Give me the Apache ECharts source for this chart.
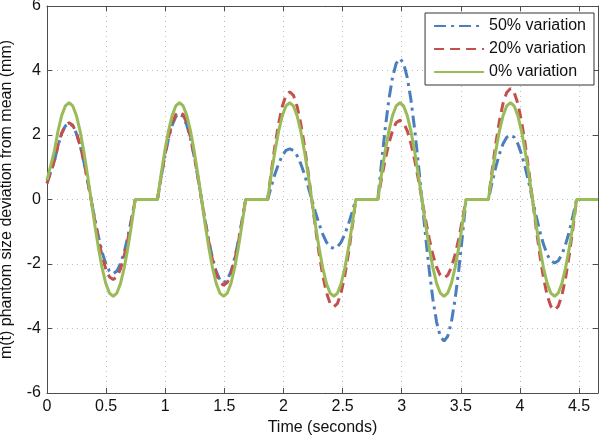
<!DOCTYPE html>
<html>
<head>
<meta charset="utf-8">
<script src="https://cdn.jsdelivr.net/npm/echarts@6/dist/echarts.min.js"></script>
<style>html,body{margin:0;padding:0;background:#fff}#c{width:600px;height:437px}</style>
</head>
<body>
<div id="c"></div>
<script>
// Time samples (seconds)
const time = [
  0, 0.031, 0.062, 0.093, 0.124, 0.155, 0.187, 0.218, 0.249, 0.280, 0.311, 0.342, 0.373, 0.404, 0.435, 0.466, 0.497, 0.528, 0.560, 0.591, 0.622, 0.653, 0.684, 0.715, 0.746,
  0.934, 0.965, 0.996, 1.027, 1.058, 1.089, 1.121, 1.152, 1.183, 1.214, 1.245, 1.276, 1.307, 1.338, 1.369, 1.400, 1.431, 1.462, 1.494, 1.525, 1.556, 1.587, 1.618, 1.649, 1.680,
  1.866, 1.897, 1.928, 1.959, 1.990, 2.021, 2.053, 2.084, 2.115, 2.146, 2.177, 2.208, 2.239, 2.270, 2.301, 2.332, 2.363, 2.394, 2.426, 2.457, 2.488, 2.519, 2.550, 2.581, 2.612,
  2.798, 2.829, 2.860, 2.891, 2.922, 2.953, 2.985, 3.016, 3.047, 3.078, 3.109, 3.140, 3.171, 3.202, 3.233, 3.264, 3.295, 3.326, 3.358, 3.389, 3.420, 3.451, 3.482, 3.513, 3.544,
  3.733, 3.764, 3.795, 3.826, 3.857, 3.888, 3.920, 3.951, 3.982, 4.013, 4.044, 4.075, 4.106, 4.137, 4.168, 4.199, 4.230, 4.261, 4.293, 4.324, 4.355, 4.386, 4.417, 4.448, 4.479,
  4.66
];
// 50% variation (mm)
const var50 = [
  0.5, 0.85, 1.18, 1.67, 2.04, 2.28, 2.36, 2.28, 2.04, 1.67, 1.18, 0.61, 0, -0.60, -1.15, -1.63, -1.99, -2.22, -2.30, -2.22, -1.99, -1.63, -1.15, -0.60, 0,
  0, 0.69, 1.33, 1.88, 2.30, 2.57, 2.66, 2.57, 2.30, 1.88, 1.33, 0.69, 0, -0.67, -1.29, -1.82, -2.23, -2.49, -2.58, -2.49, -2.23, -1.82, -1.29, -0.67, 0,
  0, 0.41, 0.79, 1.11, 1.36, 1.52, 1.57, 1.52, 1.36, 1.11, 0.79, 0.41, 0, -0.39, -0.76, -1.07, -1.32, -1.47, -1.52, -1.47, -1.32, -1.07, -0.76, -0.39, 0,
  0, 1.13, 2.19, 3.09, 3.78, 4.22, 4.37, 4.22, 3.78, 3.09, 2.19, 1.13, 0, -1.14, -2.20, -3.10, -3.80, -4.24, -4.39, -4.24, -3.80, -3.10, -2.20, -1.14, 0,
  0, 0.52, 1.00, 1.41, 1.73, 1.93, 2.00, 1.93, 1.73, 1.41, 1.00, 0.52, 0, -0.51, -0.99, -1.39, -1.71, -1.90, -1.97, -1.90, -1.71, -1.39, -0.99, -0.51, 0,
  0
];
// 20% variation (mm)
const var20 = [
  0.5, 0.85, 1.19, 1.68, 2.06, 2.30, 2.38, 2.30, 2.06, 1.68, 1.19, 0.62, 0, -0.64, -1.24, -1.75, -2.15, -2.40, -2.48, -2.40, -2.15, -1.75, -1.24, -0.64, 0,
  0, 0.70, 1.36, 1.92, 2.36, 2.63, 2.72, 2.63, 2.36, 1.92, 1.36, 0.70, 0, -0.69, -1.33, -1.88, -2.30, -2.57, -2.66, -2.57, -2.30, -1.88, -1.33, -0.69, 0,
  0, 0.86, 1.67, 2.36, 2.89, 3.23, 3.34, 3.23, 2.89, 2.36, 1.67, 0.86, 0, -0.86, -1.67, -2.35, -2.88, -3.22, -3.33, -3.22, -2.88, -2.35, -1.67, -0.86, 0,
  0, 0.64, 1.23, 1.74, 2.13, 2.38, 2.46, 2.38, 2.13, 1.74, 1.23, 0.64, 0, -0.63, -1.22, -1.72, -2.10, -2.35, -2.43, -2.35, -2.10, -1.72, -1.22, -0.63, 0,
  0, 0.89, 1.72, 2.43, 2.98, 3.32, 3.44, 3.32, 2.98, 2.43, 1.72, 0.89, 0, -0.89, -1.72, -2.43, -2.97, -3.31, -3.43, -3.31, -2.97, -2.43, -1.72, -0.89, 0,
  0
];
// 0% variation (mm)
const var0 = [
  0.6, 1.05, 1.5, 2.12, 2.6, 2.9, 3, 2.9, 2.6, 2.12, 1.5, 0.78, 0, -0.78, -1.5, -2.12, -2.6, -2.9, -3, -2.9, -2.6, -2.12, -1.5, -0.78, 0,
  0, 0.78, 1.5, 2.12, 2.6, 2.9, 3, 2.9, 2.6, 2.12, 1.5, 0.78, 0, -0.78, -1.5, -2.12, -2.6, -2.9, -3, -2.9, -2.6, -2.12, -1.5, -0.78, 0,
  0, 0.78, 1.5, 2.12, 2.6, 2.9, 3, 2.9, 2.6, 2.12, 1.5, 0.78, 0, -0.78, -1.5, -2.12, -2.6, -2.9, -3, -2.9, -2.6, -2.12, -1.5, -0.78, 0,
  0, 0.78, 1.5, 2.12, 2.6, 2.9, 3, 2.9, 2.6, 2.12, 1.5, 0.78, 0, -0.78, -1.5, -2.12, -2.6, -2.9, -3, -2.9, -2.6, -2.12, -1.5, -0.78, 0,
  0, 0.78, 1.5, 2.12, 2.6, 2.9, 3, 2.9, 2.6, 2.12, 1.5, 0.78, 0, -0.78, -1.5, -2.12, -2.6, -2.9, -3, -2.9, -2.6, -2.12, -1.5, -0.78, 0,
  0
];
const seriesNames = ['50% variation', '20% variation', '0% variation'];
const xTickLabels = ['0', '0.5', '1', '1.5', '2', '2.5', '3', '3.5', '4', '4.5'];
const yTickLabels = ['-6', '-4', '-2', '0', '2', '4', '6'];
const xLabel = 'Time (seconds)';
const yLabel = 'm(t) phantom size deviation from mean (mm)';

const FONT = '"Liberation Sans", Arial, sans-serif';
const AX = '#4d4d4d';
const pair = (vals) => time.map((t, i) => [t, vals[i]]);
const fmtX = (v) => { const s = String(+v.toFixed(2)); return xTickLabels.includes(s) ? s : ''; };
const fmtY = (v) => { const s = String(+v.toFixed(2)); return yTickLabels.includes(s) ? s : ''; };

const chart = echarts.init(document.getElementById('c'), null, {renderer: 'canvas'});
const xBase = {type: 'value', min: 0, max: 4.66, interval: 0.5};
const yBase = {type: 'value', min: -6, max: 6, interval: 2};
chart.setOption({
  animation: false,
  backgroundColor: '#fff',
  grid: {left: 47, right: 2, top: 6, bottom: 44, containLabel: false, outerBoundsMode: 'none'},
  legend: {
    orient: 'vertical', right: 6, top: 13,
    data: seriesNames,
    backgroundColor: '#fff', borderColor: '#333', borderWidth: 1,
    padding: [5, 8, 5, 8],
    itemWidth: 50, itemHeight: 14, itemGap: 7,
    itemStyle: {opacity: 0},
    textStyle: {fontFamily: FONT, fontSize: 16, color: '#111'}
  },
  xAxis: [
    Object.assign({}, xBase, {
      position: 'bottom',
      name: xLabel, nameLocation: 'middle', nameGap: 17,
      nameTextStyle: {fontFamily: FONT, fontSize: 16, color: '#111'},
      axisLine: {show: true, onZero: false, lineStyle: {color: AX, width: 1}},
      axisTick: {show: true, inside: true, length: 5, lineStyle: {color: AX}},
      axisLabel: {fontFamily: FONT, fontSize: 16, color: '#111', margin: 6, formatter: fmtX},
      splitLine: {show: true, lineStyle: {color: '#bdbdbd', type: [1, 4], width: 1}}
    }),
    Object.assign({}, xBase, {
      position: 'top',
      axisLine: {show: true, onZero: false, lineStyle: {color: AX, width: 1}},
      axisTick: {show: true, inside: true, length: 5, lineStyle: {color: AX}},
      axisLabel: {show: false},
      splitLine: {show: false}
    })
  ],
  yAxis: [
    Object.assign({}, yBase, {
      position: 'left',
      name: yLabel, nameLocation: 'middle', nameGap: 32, nameRotate: 90,
      nameTextStyle: {fontFamily: FONT, fontSize: 16, color: '#111'},
      axisLine: {show: true, onZero: false, lineStyle: {color: AX, width: 1}},
      axisTick: {show: true, inside: true, length: 5, lineStyle: {color: AX}},
      axisLabel: {fontFamily: FONT, fontSize: 16, color: '#111', margin: 6, formatter: fmtY},
      splitLine: {show: true, lineStyle: {color: '#bdbdbd', type: [1, 4], width: 1}}
    }),
    Object.assign({}, yBase, {
      position: 'right',
      axisLine: {show: true, onZero: false, lineStyle: {color: AX, width: 1}},
      axisTick: {show: true, inside: true, length: 5, lineStyle: {color: AX}},
      axisLabel: {show: false},
      splitLine: {show: false}
    })
  ],
  series: [
    {name: seriesNames[0], type: 'line', data: pair(var50), showSymbol: false, symbol: 'none',
     lineStyle: {color: '#4a7ebf', width: 3, type: [12, 5, 3, 5], cap: 'butt'}, itemStyle: {color: '#4a7ebf'}, z: 2},
    {name: seriesNames[1], type: 'line', data: pair(var20), showSymbol: false, symbol: 'none',
     lineStyle: {color: '#c4504d', width: 3, type: [10, 6], cap: 'butt'}, itemStyle: {color: '#c4504d'}, z: 3},
    {name: seriesNames[2], type: 'line', data: pair(var0), showSymbol: false, symbol: 'none',
     lineStyle: {color: '#9bbb59', width: 3, type: 'solid'}, itemStyle: {color: '#9bbb59'}, z: 4}
  ]
});
</script>
</body>
</html>
